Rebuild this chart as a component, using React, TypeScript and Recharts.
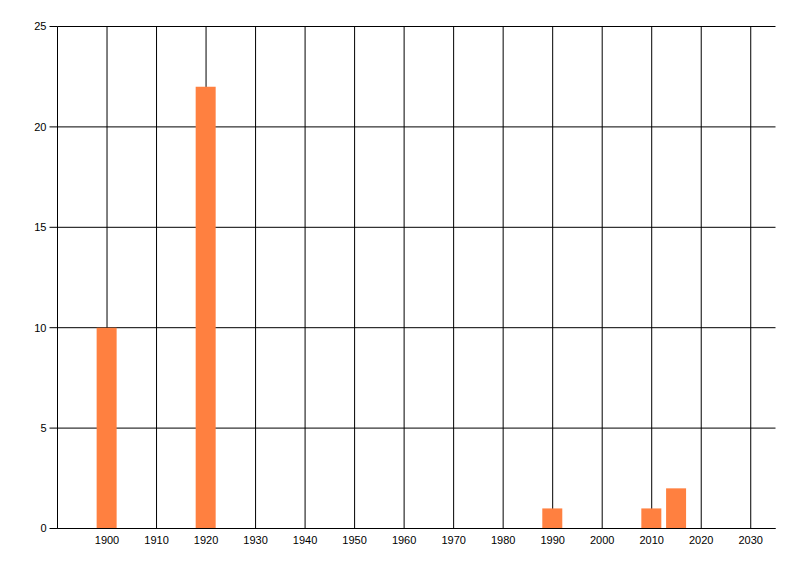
import React from 'react';
import { ComposedChart, Bar, XAxis, YAxis, CartesianGrid } from 'recharts';

const years = [1900, 1920, 1990, 2010, 2015];
const counts = [10, 22, 1, 1, 2];
const xTicks = [1900, 1910, 1920, 1930, 1940, 1950, 1960, 1970, 1980, 1990, 2000, 2010, 2020, 2030];
const yTicks = [0, 5, 10, 15, 20, 25];

const data = years.map((year, i) => ({ year, count: counts[i] }));

const tickStyle = { fill: '#000', fontSize: 11, fontFamily: 'Liberation Sans, Arial, sans-serif' };

const App: React.FC = () => {
  return (
    <div style={{ position: 'absolute', left: 0, top: 0, width: 800, height: 576, background: '#fff' }}>
      <ComposedChart
        width={800}
        height={576}
        data={data}
        margin={{ top: 26.5, right: 24.5, bottom: 0, left: 0 }}
      >
        <CartesianGrid
          stroke="#000"
          strokeWidth={1}
          verticalValues={xTicks}
          horizontalValues={yTicks}
        />
        <XAxis
          dataKey="year"
          type="number"
          domain={[1890, 2035]}
          ticks={xTicks}
          interval={0}
          height={47.5}
          tickLine={false}
          tickSize={4}
          tickMargin={4}
          axisLine={{ stroke: '#000' }}
          tick={tickStyle}
        />
        <YAxis
          type="number"
          domain={[0, 25]}
          ticks={yTicks}
          interval={0}
          width={57.5}
          tickSize={8}
          tickMargin={3}
          axisLine={{ stroke: '#000' }}
          tickLine={{ stroke: '#000' }}
          tick={tickStyle}
        />
        <Bar dataKey="count" fill="#FF8040" barSize={20} isAnimationActive={false} />
      </ComposedChart>
    </div>
  );
};

export default App;
